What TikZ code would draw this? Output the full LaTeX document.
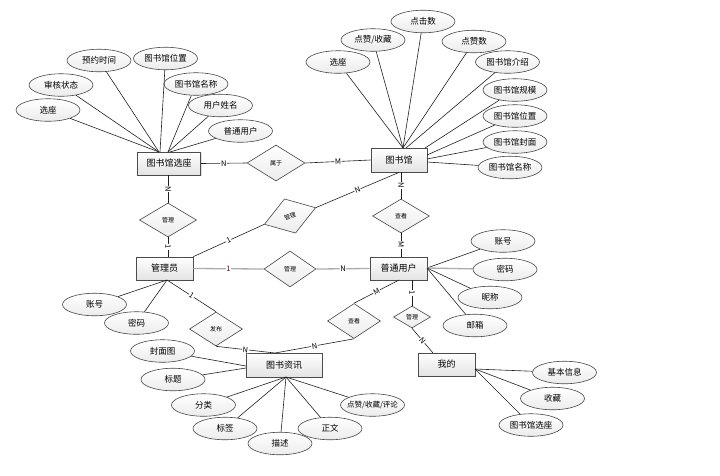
\documentclass[tikz,border=0pt]{standalone}
\usepackage{fontspec}
\newfontfamily\cjk{Noto Sans CJK SC}
\usetikzlibrary{shapes.geometric,shadows}
\begin{document}
\begin{tikzpicture}[x=1pt,y=-1pt,
 ent/.style={draw=gray!60!black, line width=0.8pt, top color=white, bottom color=gray!22,
   minimum width=57pt, minimum height=23pt, inner sep=1pt, font=\cjk\fontsize{9}{10}\selectfont,
   drop shadow={shadow xshift=1pt,shadow yshift=-1pt,opacity=0.25}},
 rel/.style={diamond, draw=gray!55!black, line width=0.6pt, top color=white, bottom color=gray!15,
   inner sep=0pt, font=\cjk\fontsize{6}{7}\selectfont},
 attr/.style={ellipse, draw=gray!55!black, line width=0.6pt, top color=white, bottom color=gray!15,
   minimum width=64pt, minimum height=22.5pt, inner sep=0pt, font=\cjk\fontsize{8.5}{10}\selectfont},
 con/.style={draw=gray!25!black, line width=0.6pt},
 thick con/.style={draw=gray!65, line width=1.3pt},
 lab/.style={fill=white, inner sep=0.6pt, font=\cjk\fontsize{7.5}{8}\selectfont, sloped},
]
\useasboundingbox (0,0) rectangle (720,475);

% entities
\node[ent, minimum width=63pt] (ls) at (169,163.5) {图书馆选座};
\node[ent, minimum width=56pt, minimum height=24pt] (lib) at (399,160) {图书馆};
\node[ent] (admin) at (164.5,268.5) {管理员};
\node[ent] (user) at (398.5,268.5) {普通用户};
\node[ent, minimum width=76pt, minimum height=24pt] (info) at (284,365) {图书资讯};
\node[ent] (mine) at (446.5,364.5) {我的};

% relationships
\node[rel, minimum width=58pt, minimum height=36pt] (shu) at (276,163) {属于};
\node[rel, minimum width=57pt, minimum height=34pt] (gl1) at (168,220) {管理};
\node[rel, minimum width=54pt, minimum height=36pt, rotate=18] (gl2) at (290,216) {管理};
\node[rel, minimum width=52pt, minimum height=36pt] (gl3) at (290,269) {管理};
\node[rel, minimum width=57pt, minimum height=34pt] (ck1) at (401,216) {查看};
\node[rel, minimum width=53pt, minimum height=35pt] (ck2) at (354,321) {查看};
\node[rel, minimum width=37pt, minimum height=22pt] (gl4) at (412,317) {管理};
\node[rel, minimum width=53pt, minimum height=34pt] (fb) at (216,329) {发布};

% relationship connectors
\draw[con] (ls.east) -- node[lab]{N} (shu.west);
\draw[con] (shu.east) -- node[lab]{M} (lib.west);
\draw[con] (gl1.north |- ls.south) -- node[lab]{N} (gl1.north);
\draw[con] (gl1.south) -- node[lab]{1} (gl1.south |- admin.north);
\draw[con] (admin.north east) -- node[lab]{1} (gl2.west);
\draw[con] (gl2.east) -- node[lab]{N} (lib.south);
\draw[thick con] (admin.east) -- node[lab, text=purple!60!black]{1} (gl3.west);
\draw[thick con] (gl3.east) -- node[lab, text=black]{N} (user.west);
\draw[con] (ck1.north |- lib.south) -- node[lab]{N} (ck1.north);
\draw[con] (ck1.south) -- node[lab]{M} (ck1.south |- user.north);
\coordinate (userB) at (399,280);
\coordinate (userB2) at (412,280);
\coordinate (infoT) at (275,353);
\coordinate (mineT) at (433,353);
\coordinate (adminB) at (167,280);
\draw[con] (userB) -- node[lab]{M} (ck2.north);
\draw[con] (ck2.south) -- node[lab]{N} (infoT);
\draw[con] (adminB) -- node[lab]{1} (fb.north);
\draw[con] (fb.south) -- node[lab]{N} (infoT);
\draw[con] (userB2) -- node[lab]{1} (gl4.north);
\draw[con] (gl4.south) -- node[lab]{N} (mineT);

% attributes of 图书馆选座
\node[attr] (a1) at (48,110) {选座};
\node[attr] (a2) at (61,85) {审核状态};
\node[attr] (a3) at (99,60.5) {预约时间};
\node[attr] (a4) at (165.5,58.5) {图书馆位置};
\node[attr] (a5) at (196,84) {图书馆名称};
\node[attr] (a6) at (220.5,105.5) {用户姓名};
\node[attr] (a7) at (240.5,131) {普通用户};
\coordinate (lsL) at (159,152);
\coordinate (lsM) at (160,152);
\coordinate (lsR) at (168,152);
\coordinate (lsRR) at (170,152);
\draw[con] (a1) -- (lsL);
\draw[con] (a2) -- (lsL);
\draw[con] (a3) -- (lsL);
\draw[con] (a4) -- (lsM);
\draw[con] (a5) -- (lsR);
\draw[con] (a6) -- (lsR);
\draw[con] (a7) -- (lsRR);

% attributes of 图书馆
\node[attr] (b1) at (338,62) {选座};
\node[attr] (b2) at (373,40) {点赞/收藏};
\node[attr] (b3) at (423,21.5) {点击数};
\node[attr] (b4) at (474,41.5) {点赞数};
\node[attr] (b5) at (507.5,62) {图书馆介绍};
\node[attr] (b6) at (515,90) {图书馆规模};
\node[attr] (b7) at (515,116) {图书馆位置};
\node[attr] (b8) at (515,142) {图书馆封面};
\node[attr] (b9) at (510,167.5) {图书馆名称};
\coordinate (libT) at (403,148);
\coordinate (libT2) at (406,148);
\coordinate (libC) at (425,148);
\coordinate (libR1) at (427,155);
\coordinate (libR2) at (427,159);
\coordinate (libR3) at (427,162);
\draw[con] (b1) -- (libT);
\draw[con] (b2) -- (libT);
\draw[con] (b3) -- (libT);
\draw[con] (b4) -- (libT);
\draw[con] (b5) -- (libT2);
\draw[con] (b6) -- (libC);
\draw[con] (b7) -- (libR1);
\draw[con] (b8) -- (libR2);
\draw[con] (b9) -- (libR3);

% attributes of 普通用户
\node[attr] (c1) at (503,241) {账号};
\node[attr] (c2) at (505,269.5) {密码};
\node[attr] (c3) at (490,297.5) {昵称};
\node[attr] (c4) at (475,325.5) {邮箱};
\coordinate (userR) at (427,268);
\draw[con] (c1) -- (userR);
\draw[thick con] (c2) -- (userR);
\draw[con] (c3) -- (userR);
\draw[con] (c4) -- (userR);

% attributes of 管理员
\node[attr] (d1) at (94.5,304.5) {账号};
\node[attr] (d2) at (136.5,323) {密码};
\draw[con] (d1) -- (adminB);
\draw[con] (d2) -- (adminB);

% attributes of 图书资讯
\node[attr] (e1) at (162.5,351) {封面图};
\node[attr] (e2) at (173,379.5) {标题};
\node[attr] (e3) at (203.5,405) {分类};
\node[attr] (e4) at (225,428.5) {标签};
\node[attr] (e5) at (280,443.5) {描述};
\node[attr] (e6) at (330,428.5) {正文};
\node[attr, label={[font=\cjk\fontsize{7.5}{8}\selectfont, inner sep=0pt]center:点赞/收藏/评论}] (e7) at (372.5,405) {};
\coordinate (infoL1) at (246,366);
\coordinate (infoL2) at (246,368);
\coordinate (infoB) at (286,377);
\draw[con] (e1) -- (infoL1);
\draw[con] (e2) -- (infoL2);
\draw[con] (e3) -- (infoB);
\draw[con] (e4) -- (infoB);
\draw[con] (e5) -- (infoB);
\draw[con] (e6) -- (infoB);
\draw[con] (e7) -- (infoB);

% attributes of 我的
\node[attr] (f1) at (564.5,372.5) {基本信息};
\node[attr] (f2) at (552.5,398.5) {收藏};
\node[attr] (f3) at (531,425) {图书馆选座};
\coordinate (mineR) at (475,369);
\draw[con] (f1) -- (mineR);
\draw[con] (f2) -- (mineR);
\draw[con] (f3) -- (mineR);
\end{tikzpicture}
\end{document}
